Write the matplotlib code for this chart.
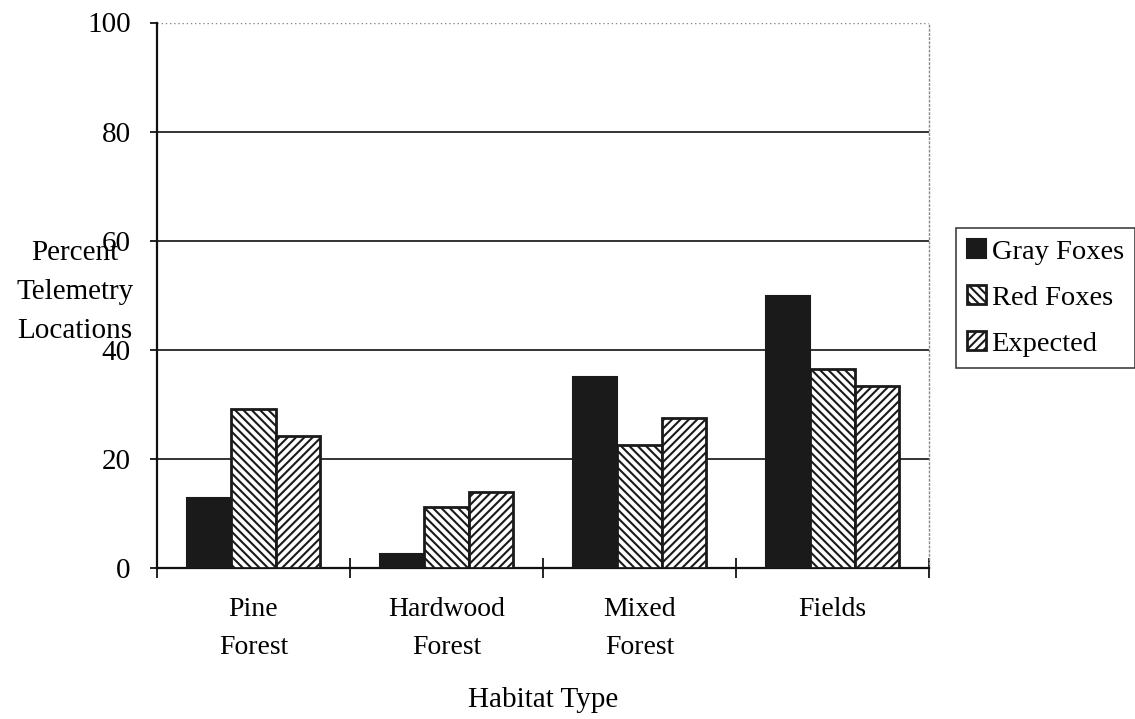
import matplotlib
matplotlib.use("Agg")
import matplotlib.pyplot as plt
import numpy as np

categories = ["Pine\nForest", "Hardwood\nForest", "Mixed\nForest", "Fields"]
gray_foxes = [12.8, 2.5, 35.0, 49.8]
red_foxes = [29.2, 11.1, 22.6, 36.4]
expected = [24.2, 13.9, 27.5, 33.3]
series_names = ["Gray Foxes", "Red Foxes", "Expected"]
y_ticks = [0, 20, 40, 60, 80, 100]

plt.rcParams['font.family'] = ['Liberation Serif', 'DejaVu Serif']
plt.rcParams['hatch.linewidth'] = 1.5

FS = 21

fig = plt.figure(figsize=(11.35, 7.19), dpi=100)
ax = fig.add_axes([157/1135, 1-568/719, (929-157)/1135, (568-22.5)/719])

x = np.arange(len(categories))
w = 0.23
ax.bar(x - w, gray_foxes, w, color="#1a1a1a", edgecolor="#1a1a1a", linewidth=1.5,
       label=series_names[0], zorder=3)
ax.bar(x, red_foxes, w, color="white", edgecolor="#1a1a1a", linewidth=2,
       hatch="\\\\\\\\", label=series_names[1], zorder=3)
ax.bar(x + w, expected, w, color="white", edgecolor="#1a1a1a", linewidth=2,
       hatch="////", label=series_names[2], zorder=3)

ax.set_xlim(-0.5, len(categories) - 0.5)
ax.set_ylim(0, 100)

# gridlines
for yv in y_ticks[1:-1]:
    ax.axhline(yv, color="#111111", linewidth=1.2, zorder=1)
ax.axhline(100, color="#888888", linewidth=1.0, linestyle=(0, (1, 2)), zorder=1)

ax.spines['top'].set_visible(False)
ax.spines['right'].set_color("#888888")
ax.spines['right'].set_linestyle((0, (1, 2)))
ax.spines['right'].set_linewidth(1.0)
ax.spines['left'].set_linewidth(1.6)
ax.spines['bottom'].set_linewidth(1.6)
ax.spines['left'].set_color("#111111")
ax.spines['bottom'].set_color("#111111")

ax.set_yticks(y_ticks)
ax.set_yticklabels([str(v) for v in y_ticks], fontsize=FS)
ax.tick_params(axis='y', direction='out', length=5, width=1.2, pad=14)

ax.set_xticks(np.arange(len(categories) + 1) - 0.5)
ax.set_xticklabels([""] * (len(categories) + 1))
ax.tick_params(axis='x', which='major', direction='inout', length=14, width=1.2)
ax.set_xticks(x, minor=True)
ax.set_xticklabels(categories, minor=True, fontsize=20, linespacing=1.65)
ax.tick_params(axis='x', which='minor', length=0, pad=21)

fig.text(75/1135, 1-292/719, "Percent\nTelemetry\nLocations",
         ha='center', va='center', fontsize=FS, linespacing=1.65)
fig.text(543/1135, 1-700/719, "Habitat Type", ha='center', va='center', fontsize=FS)

leg = fig.legend(loc='upper left', bbox_to_anchor=(956/1135, 1-228/719),
                 bbox_transform=fig.transFigure, fontsize=20.5, frameon=True,
                 fancybox=False, borderaxespad=0, handlelength=0.65, handleheight=0.65,
                 handletextpad=0.2, labelspacing=0.72, borderpad=0.4)
leg.get_frame().set_edgecolor("#111111")
leg.get_frame().set_linewidth(1.2)

fig.savefig("out.png", dpi=100)
